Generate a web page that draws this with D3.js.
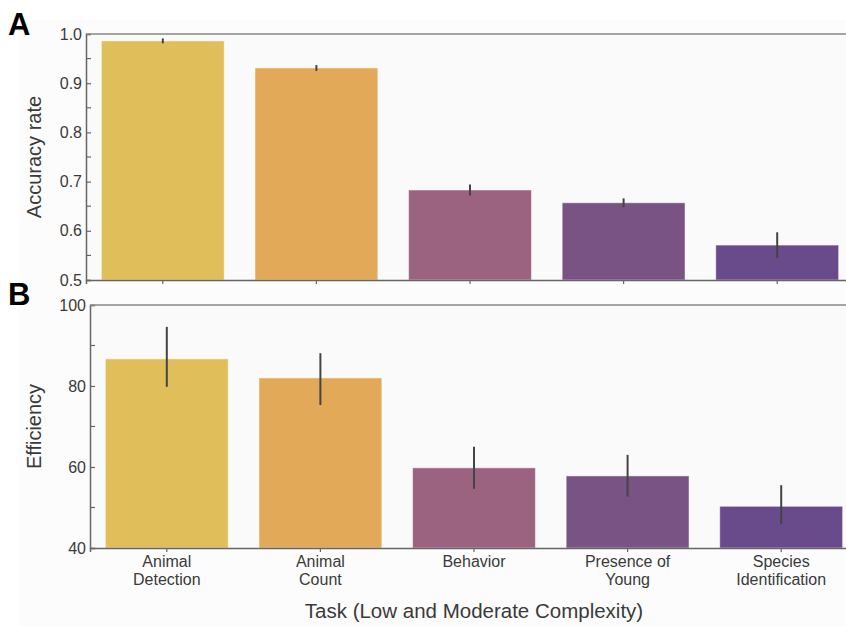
<!DOCTYPE html>
<html><head><meta charset="utf-8">
<script src="https://cdn.jsdelivr.net/npm/d3@7"></script>
<style>body{margin:0;background:#fff}svg{display:block}text{font-family:"Liberation Sans",Arial,sans-serif}</style>
</head><body>
<svg id="c" width="846" height="626"></svg>
<script>
const categories = ["Animal Detection","Animal Count","Behavior","Presence of Young","Species Identification"];
const categoryLines = [["Animal","Detection"],["Animal","Count"],["Behavior"],["Presence of","Young"],["Species","Identification"]];
const colors = ["#e0bf5a","#e2aa58","#9c6380","#785384","#694a8a"];
const accuracy = [0.986, 0.931, 0.683, 0.657, 0.571];
const accuracyErr = [0.005, 0.006, 0.011, 0.009, 0.026];
const efficiency = [86.7, 82.0, 59.8, 57.8, 50.3];
const effLow = [79.8, 75.3, 54.6, 52.7, 45.9];
const effHigh = [94.6, 88.1, 65.0, 63.0, 55.5];
const accTicks = [0.5,0.6,0.7,0.8,0.9,1.0];
const accMinor = [0.55,0.65,0.75,0.85,0.95];
const effTicks = [40,60,80,100];
const effMinor = [50,70,90];

const svg = d3.select("#c");
svg.append("rect").attr("x",18).attr("y",20).attr("width",828).attr("height",606).attr("fill","#fcfcfc");

function panel(opt){
  const g = svg.append("g");
  const x = d3.scaleBand().domain(categories).range([opt.left, opt.left+768]).paddingInner(0.2).paddingOuter(0.1);
  const y = d3.scaleLinear().domain(opt.domain).range([opt.bottom, opt.top]);
  g.append("rect").attr("x",opt.left).attr("y",opt.top).attr("width",768).attr("height",opt.bottom-opt.top).attr("fill","#fafafa");
  g.selectAll("rect.bar").data(opt.values).join("rect").attr("class","bar")
    .attr("x",(d,i)=>x(categories[i])).attr("width",x.bandwidth())
    .attr("y",d=>y(d)).attr("height",d=>opt.bottom-y(d))
    .attr("fill",(d,i)=>colors[i]).attr("stroke","#ffffff").attr("stroke-opacity",0.5).attr("stroke-width",1);
  g.selectAll("line.err").data(opt.values).join("line").attr("class","err")
    .attr("x1",(d,i)=>x(categories[i])+x.bandwidth()/2).attr("x2",(d,i)=>x(categories[i])+x.bandwidth()/2)
    .attr("y1",(d,i)=>y(opt.lo[i])).attr("y2",(d,i)=>y(opt.hi[i]))
    .attr("stroke","#444").attr("stroke-width",2);
  const ya = d3.axisLeft(y).tickValues(opt.ticks).tickFormat(opt.fmt).tickSize(-5).tickPadding(4);
  const yg = g.append("g").attr("transform",`translate(${opt.left},0)`).call(ya);
  yg.select(".domain").attr("stroke","#666").attr("stroke-width",1.5);
  yg.selectAll(".tick line").attr("stroke","#666").attr("stroke-width",1.2);
  yg.selectAll(".tick text").attr("font-size",16).attr("fill","#3a3a3a");
  g.selectAll("line.minor").data(opt.minor).join("line").attr("class","minor")
    .attr("x1",opt.left).attr("x2",opt.left+5).attr("y1",d=>y(d)).attr("y2",d=>y(d))
    .attr("stroke","#666").attr("stroke-width",1.2);
  g.append("line").attr("x1",opt.left).attr("x2",opt.left+768).attr("y1",opt.top).attr("y2",opt.top).attr("stroke","#888").attr("stroke-width",1.5);
  const xa = d3.axisBottom(x).tickSize(4).tickFormat("");
  const xg = g.append("g").attr("transform",`translate(0,${opt.bottom})`).call(xa);
  xg.select(".domain").attr("stroke","#666").attr("stroke-width",1.5);
  xg.selectAll(".tick line").attr("stroke","#666").attr("stroke-width",1.2);
  if(opt.labels){
    categories.forEach((c,i)=>{
      const t = g.append("text").attr("x",x(c)+x.bandwidth()/2).attr("y",opt.bottom+19)
        .attr("text-anchor","middle").attr("font-size",16).attr("fill","#3a3a3a");
      categoryLines[i].forEach((ln,j)=>t.append("tspan").attr("x",x(c)+x.bandwidth()/2).attr("dy",j?18:0).text(ln));
    });
  }
  g.append("text").attr("transform",`translate(${opt.ylabX},${(opt.top+opt.bottom)/2}) rotate(-90)`)
    .attr("text-anchor","middle").attr("font-size",20).attr("fill","#3a3a3a").text(opt.ylabel);
  g.append("text").attr("x",8).attr("y",opt.letterY).attr("font-size",31).attr("font-weight","bold").attr("fill","#000").text(opt.letter);
}

panel({left:86, top:34, bottom:280, domain:[0.5,1.0], values:accuracy,
  lo:accuracy.map((v,i)=>v-accuracyErr[i]), hi:accuracy.map((v,i)=>v+accuracyErr[i]),
  ticks:accTicks, minor:accMinor, fmt:d3.format(".1f"), ylabel:"Accuracy rate", ylabX:41, letter:"A", letterY:35, labels:false});
panel({left:90, top:305, bottom:548, domain:[40,100], values:efficiency,
  lo:effLow, hi:effHigh, ticks:effTicks, minor:effMinor, fmt:d3.format("d"), ylabel:"Efficiency", ylabX:41, letter:"B", letterY:305, labels:true});

svg.append("text").attr("x",474).attr("y",618).attr("text-anchor","middle").attr("font-size",20.5).attr("fill","#3a3a3a")
  .text("Task (Low and Moderate Complexity)");
</script>
</body></html>
